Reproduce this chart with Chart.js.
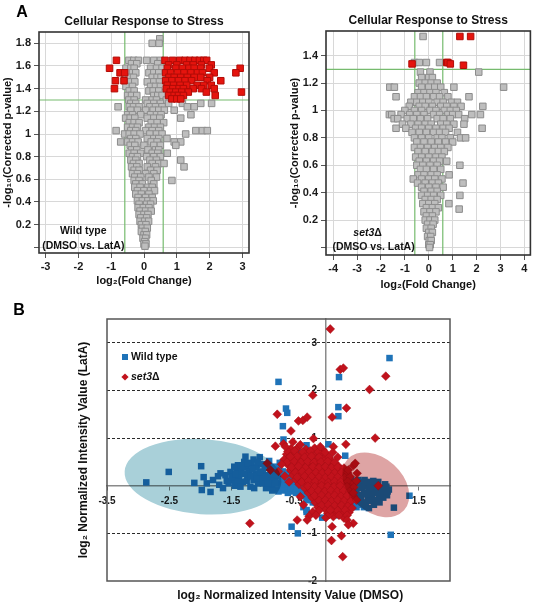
<!DOCTYPE html>
<html>
<head>
<meta charset="utf-8">
<script src="https://cdn.jsdelivr.net/npm/chart.js@4.4.1/dist/chart.umd.min.js"></script>
<style>
  html, body { margin: 0; padding: 0; background: #fff; }
  #wrap { position: relative; width: 536px; height: 607px; overflow: hidden; }
  canvas { position: absolute; }
  #cA1 { left: 0; top: 0; }
  #cA2 { left: 268px; top: 0; }
  #cB { left: 0; top: 290px; }
</style>
</head>
<body>
<div id="wrap">
  <canvas id="cB" width="536" height="317"></canvas>
  <canvas id="cA1" width="268" height="295"></canvas>
  <canvas id="cA2" width="268" height="295"></canvas>
</div>
<script>
// ---- Panel A, wild type: rows of [-log10 p, [log2 fold change, ...]]
const wtGrayRows = [
  [1.84, [0.48]],
  [1.80, [0.25, 0.46]],
  [1.65, [-0.46, -0.31, -0.17, 0.08, 0.3, 0.5]],
  [1.62, [-0.38, -0.22, 0.42]],
  [1.58, [-0.55, -0.4, -0.3, 0.2, 0.38, 0.55]],
  [1.54, [-0.5, -0.35, -0.25, 0.15, 0.3, 0.45]],
  [1.50, [-0.58, -0.45, -0.32, 0.25, 0.4, 0.52]],
  [1.46, [-0.52, -0.4, -0.28, 0.1, 0.3, 0.47]],
  [1.42, [-0.55, -0.35, 0.2, 0.35, 0.5]],
  [1.38, [-0.45, -0.3, 0.15, 0.28, 0.45]],
  [1.34, [-0.5, -0.38, -0.22, 0.3, 0.42, 0.55]],
  [1.30, [-0.46, -0.3, 0.05, 0.25, 0.38, 0.68]],
  [1.27, [-0.4, -0.25, 0.1, 0.3, 0.5, 0.75, 1.17, 1.73, 2.06]],
  [1.24, [-0.79, -0.45, -0.32, -0.15, 0.18, 0.35, 0.55, 1.32, 1.53]],
  [1.21, [-0.4, -0.2, 0.05, 0.28, 0.45, 0.62, 0.92]],
  [1.17, [-0.5, -0.35, -0.1, 0.2, 0.38, 0.52, 1.43]],
  [1.14, [-0.56, -0.42, -0.28, 0.1, 0.3, 0.48, 1.12]],
  [1.10, [-0.45, -0.3, -0.15, 0.22, 0.4, 0.6]],
  [1.06, [-0.5, -0.35, -0.2, 0.15, 0.32, 0.5]],
  [1.03, [-0.85, -0.4, -0.25, 0.05, 0.25, 0.45, 1.58, 1.78, 1.93]],
  [1.00, [-0.59, -0.45, -0.3, -0.12, 0.18, 0.38, 0.55, 1.27]],
  [0.96, [-0.4, -0.25, 0.1, 0.3, 0.45, 0.7]],
  [0.93, [-0.71, -0.5, -0.35, -0.18, 0.22, 0.4, 0.92, 1.12]],
  [0.90, [-0.42, -0.28, 0.0, 0.3, 0.5, 0.97]],
  [0.86, [-0.38, -0.22, 0.12, 0.35, 0.45]],
  [0.83, [-0.45, -0.3, -0.1, 0.25, 0.42, 0.71]],
  [0.80, [-0.35, -0.2, 0.08, 0.3, 0.5]],
  [0.77, [-0.4, -0.25, 0.18, 0.38, 1.12]],
  [0.74, [-0.32, -0.15, 0.25, 0.45, 0.61]],
  [0.71, [-0.38, -0.22, 0.1, 0.35, 1.22]],
  [0.68, [-0.3, -0.15, 0.2, 0.4]],
  [0.65, [-0.35, -0.2, 0.05, 0.3]],
  [0.62, [-0.28, -0.1, 0.15, 0.38]],
  [0.59, [-0.3, -0.15, 0.22, 0.85]],
  [0.56, [-0.25, -0.05, 0.3]],
  [0.53, [-0.28, -0.12, 0.12, 0.25]],
  [0.50, [-0.2, 0.0, 0.2, 0.32]],
  [0.47, [-0.25, -0.08, 0.15]],
  [0.44, [-0.18, 0.05, 0.25]],
  [0.41, [-0.2, -0.05, 0.12, 0.28]],
  [0.38, [-0.15, 0.08, 0.2]],
  [0.35, [-0.18, -0.02, 0.15]],
  [0.32, [-0.12, 0.05, 0.22]],
  [0.29, [-0.15, 0.0, 0.12]],
  [0.26, [-0.1, 0.08]],
  [0.23, [-0.12, 0.02, 0.14]],
  [0.20, [-0.08, 0.06]],
  [0.17, [-0.05, 0.1]],
  [0.14, [-0.08, 0.04]],
  [0.11, [0.0, 0.08]],
  [0.08, [-0.03, 0.05]],
  [0.05, [0.02]],
  [0.03, [0.0, 0.06]],
  [0.01, [0.03]]
];
const wtRedRows = [
  [1.65, [-0.84, 0.64, 0.87, 1.09, 1.25, 1.4, 1.55, 1.69, 1.82, 1.91]],
  [1.61, [0.75, 1.0, 1.3, 1.5, 1.75, 2.05]],
  [1.58, [-1.05, 0.71, 0.97, 1.17, 1.37, 1.53, 1.73, 1.99, 2.93]],
  [1.54, [-0.73, -0.59, 0.66, 0.81, 1.02, 1.22, 1.43, 1.63, 1.78, 2.14, 2.8]],
  [1.50, [0.76, 0.92, 1.12, 1.32, 1.53, 1.73, 2.0]],
  [1.47, [-0.87, -0.61, 0.66, 0.85, 1.05, 1.25, 1.45, 1.93, 2.34]],
  [1.43, [0.71, 0.9, 1.1, 1.3, 1.62, 1.82, 2.05]],
  [1.40, [-0.9, 0.68, 0.88, 1.07, 1.2, 1.5, 1.75, 2.14]],
  [1.37, [0.8, 0.97, 1.15, 1.35, 1.9, 2.97]],
  [1.34, [0.75, 0.92, 1.05, 1.2, 2.17]],
  [1.31, [0.85, 1.0, 1.12]]
];

// ---- Panel A, set3 deletion
const setGrayRows = [
  [1.54, [-0.24]],
  [1.35, [-0.6, -0.4, -0.1, 0.45]],
  [1.28, [-0.35, 0.05, 2.09]],
  [1.24, [-0.3, 0.0, 0.15]],
  [1.20, [-0.4, -0.15, 0.1, 0.35]],
  [1.17, [-1.63, -1.44, -0.3, 0.0, 0.25, 0.5, 1.05, 3.13]],
  [1.13, [-0.45, -0.2, 0.05, 0.3, 0.65]],
  [1.10, [-1.37, -0.6, -0.35, -0.1, 0.2, 0.45, 0.8, 1.68]],
  [1.06, [-0.75, -0.5, -0.25, 0.0, 0.35, 0.6, 0.95, 1.2]],
  [1.03, [-0.82, -0.4, -0.15, 0.15, 0.5, 0.75, 1.05, 1.35, 2.26]],
  [1.00, [-1.0, -0.6, -0.3, 0.05, 0.3, 0.65, 0.9, 1.15]],
  [0.97, [-1.65, -1.55, -1.16, -0.8, -0.5, -0.2, 0.2, 0.45, 0.8, 1.0, 1.25, 1.8, 2.16]],
  [0.94, [-1.45, -1.3, -0.9, -0.65, -0.35, -0.05, 0.35, 0.6, 0.9, 1.5]],
  [0.90, [-1.1, -0.75, -0.45, -0.15, 0.1, 0.5, 0.75, 1.05, 1.47]],
  [0.87, [-1.37, -0.96, -0.55, -0.3, 0.0, 0.3, 0.6, 0.85, 2.23]],
  [0.84, [-0.7, -0.4, -0.1, 0.2, 0.45, 0.7, 1.2]],
  [0.80, [-0.6, -0.3, 0.0, 0.35, 0.55, 0.9, 1.33, 1.54]],
  [0.77, [-0.5, -0.2, 0.1, 0.4, 0.7, 1.0]],
  [0.73, [-0.6, -0.35, -0.05, 0.25, 0.5, 0.8]],
  [0.70, [-0.45, -0.15, 0.15, 0.4, 0.65]],
  [0.66, [-0.55, -0.3, 0.0, 0.3, 0.55]],
  [0.63, [-0.4, -0.1, 0.2, 0.45, 0.75]],
  [0.60, [-0.5, -0.25, 0.05, 0.35, 1.3]],
  [0.57, [-0.35, -0.1, 0.2, 0.5]],
  [0.53, [-0.45, -0.2, 0.1, 0.35, 0.85]],
  [0.50, [-0.65, -0.3, 0.0, 0.25, 0.55]],
  [0.47, [-0.47, -0.15, 0.15, 0.4, 1.43]],
  [0.44, [-0.3, 0.0, 0.3, 0.6]],
  [0.41, [-0.2, 0.1, 0.35]],
  [0.38, [-0.3, -0.05, 0.2, 0.5, 1.3]],
  [0.35, [-0.15, 0.1, 0.35]],
  [0.32, [-0.25, 0.0, 0.25, 0.84]],
  [0.29, [-0.1, 0.15, 0.4]],
  [0.28, [1.27]],
  [0.26, [-0.2, 0.05, 0.3]],
  [0.23, [-0.1, 0.15]],
  [0.20, [-0.15, 0.05, 0.25]],
  [0.17, [-0.05, 0.18]],
  [0.14, [-0.1, 0.1]],
  [0.11, [0.0, 0.15]],
  [0.08, [-0.05, 0.08]],
  [0.05, [0.02, 0.1]],
  [0.02, [0.0, 0.06]],
  [0.00, [0.03]]
];
const setRedRows = [
  [1.54, [1.3, 1.75]],
  [1.35, [0.75, 0.8]],
  [1.34, [-0.7, 0.9]],
  [1.33, [1.45]]
];

const foldCut = 0.585;   // log2(1.5)
const pCut = 1.3;        // -log10(0.05)
const xTicksA1 = [-3, -2, -1, 0, 1, 2, 3];
const yTicksA1 = [0, 0.2, 0.4, 0.6, 0.8, 1, 1.2, 1.4, 1.6, 1.8];
const xTicksA2 = [-4, -3, -2, -1, 0, 1, 2, 3, 4];
const yTicksA2 = [0, 0.2, 0.4, 0.6, 0.8, 1, 1.2, 1.4];

// ---- Panel B: [DMSO, LatA] log2 normalized intensity
const wtPointsB = [
  [-2.87, 0.07], [-2.51, 0.29], [-2.1, 0.06], [-1.99, 0.41], [-1.98, -0.09], [-1.95, 0.18],
  [-1.9, 0.05], [-1.84, -0.13], [-1.8, 0.12], [-1.72, 0.2], [-1.68, 0.26], [-1.7, 0.02],
  [-1.64, -0.05], [-1.58, 0.1], [-1.52, 0.29], [-1.48, 0.12], [-1.45, 0.0], [-1.42, 0.35],
  [-1.4, 0.43], [-1.38, 0.2], [-1.35, 0.3], [-1.32, 0.08], [-1.3, 0.5], [-1.28, 0.61],
  [-1.27, 0.38], [-1.25, 0.18], [-1.22, 0.3], [-1.2, -0.02], [-1.18, 0.45], [-1.15, 0.55],
  [-1.15, 0.12], [-1.12, 0.25], [-1.1, 0.38], [-1.08, 0.05], [-1.05, 0.6], [-1.05, 0.18],
  [-1.02, 0.45], [-1.0, 0.3], [-0.98, 0.1], [-0.95, -0.05], [-0.93, 0.22], [-0.9, 0.38],
  [-0.88, 0.12], [-0.85, 0.0], [-0.83, 0.28], [-0.8, 0.15], [-0.78, -0.08], [-0.76, 0.05],
  [-0.74, 0.35], [-0.72, 0.2], [-0.7, 0.0], [-0.68, 0.1], [-0.65, -0.05], [-0.62, 0.25],
  [-0.6, 0.05], [-0.58, -0.1], [-0.55, 0.15], [-0.52, 0.0], [-0.5, -0.12], [-0.48, 0.3],
  [-1.6, 0.22], [-1.55, 0.05], [-1.5, 0.18], [-1.46, 0.4], [-1.44, 0.25], [-1.4, 0.08],
  [-1.36, -0.02], [-1.33, 0.42], [-1.3, 0.25], [-1.26, 0.1], [-1.24, 0.48], [-1.2, 0.2],
  [-1.17, 0.35], [-1.14, -0.05], [-1.1, 0.15], [-1.08, 0.5], [-1.04, 0.28], [-1.0, 0.05],
  [-0.97, 0.4], [-0.95, 0.18], [-0.92, 0.05], [-0.9, 0.52], [-0.87, 0.25], [-0.85, -0.1],
  [-0.82, 0.4], [-0.8, 0.05], [-0.77, 0.22], [-0.75, -0.12], [-0.73, 0.48], [-0.7, 0.15],
  [-0.68, 0.3], [-0.66, -0.1], [-0.63, 0.08], [-0.6, -0.15], [-0.57, 0.2], [-0.55, -0.05],
  [-0.52, 0.1], [-0.5, 0.25], [-0.47, -0.15], [-0.45, 0.12], [-0.42, -0.08], [-0.38, -0.15],
  [-0.33, -0.22], [-0.28, -0.12], [-0.25, -0.3], [-0.2, -0.2], [-0.15, -0.35], [-0.1, -0.28],
  [-0.05, -0.45], [0.02, -0.38], [0.08, -0.55], [0.12, -0.45], [0.18, -0.62], [0.22, -0.5],
  [-0.45, -0.05], [-0.4, -0.2], [-0.35, -0.1], [-0.3, -0.3], [-0.25, -0.15], [-0.2, -0.35],
  [-0.15, -0.25], [-0.1, -0.4], [-0.05, -0.3], [0.0, -0.45], [0.05, -0.35], [0.1, -0.5],
  [0.15, -0.4], [0.2, -0.55], [0.25, -0.45], [0.3, -0.35], [-0.45, 0.3], [-0.5, 0.45],
  [-0.55, 0.6], [-0.4, 0.7], [-0.3, 0.85], [-0.2, 0.55], [-0.1, 0.2], [0.0, 0.0],
  [0.1, 0.1], [0.2, -0.1], [0.35, -0.2], [0.4, -0.3], [-0.35, -0.45], [-0.3, -0.55],
  [0.32, -0.62], [0.38, -0.5], [0.45, -0.4],
  [0.4, -0.05], [0.45, 0.0], [0.5, -0.1], [0.52, 0.05], [0.55, -0.2], [0.58, -0.05],
  [0.6, 0.08], [0.62, -0.15], [0.65, 0.0], [0.68, -0.25], [0.7, -0.1], [0.72, 0.05],
  [0.75, -0.2], [0.78, -0.05], [0.8, -0.3], [0.82, 0.02], [0.85, -0.12], [0.88, -0.22],
  [0.9, -0.05], [0.92, -0.15], [0.95, -0.1], [0.98, -0.02], [0.7, -0.47], [0.6, -0.38],
  [0.5, -0.45], [0.42, -0.32], [0.55, -0.3], [0.65, -0.35], [0.86, -0.28], [1.0, -0.12],
  [0.35, 0.05], [0.42, 0.12], [0.48, -0.18], [0.53, 0.12], [0.57, -0.28], [0.6, -0.02],
  [0.63, 0.12], [0.66, -0.18], [0.69, 0.08], [0.73, -0.32], [0.74, -0.02], [0.77, 0.1],
  [0.8, -0.15], [0.83, -0.05], [0.85, 0.08], [0.87, -0.35], [0.9, -0.12], [0.93, -0.25],
  [0.96, 0.03], [0.99, -0.2], [1.02, -0.08], [0.62, -0.45], [0.78, -0.4], [0.55, -0.4],
  [1.03, 2.68], [-0.75, 2.18], [0.22, 2.28], [0.21, 1.65], [0.21, 1.46], [-0.63, 1.62],
  [-0.61, 1.53], [-0.68, 1.25], [-0.67, 0.97], [0.05, 0.87], [0.32, 0.63], [1.05, -1.03],
  [1.1, -0.46], [1.35, -0.21], [-0.54, -0.86], [-0.44, -1.0], [-0.05, -0.67], [-0.3, -0.51],
  [0.29, -0.54], [0.28, -0.58]
];
const setPointsB = [
  [-0.55, 0.78], [-0.44, 0.8], [-0.31, 0.76], [-0.17, 0.79], [-0.04, 0.75],
  [-0.62, 0.66], [-0.5, 0.69], [-0.39, 0.65], [-0.28, 0.68], [-0.19, 0.64], [-0.08, 0.67], [0.02, 0.63],
  [-0.66, 0.55], [-0.55, 0.58], [-0.44, 0.54], [-0.34, 0.57], [-0.23, 0.55], [-0.13, 0.53], [-0.02, 0.57], [0.09, 0.54],
  [-0.6, 0.44], [-0.49, 0.47], [-0.38, 0.43], [-0.29, 0.46], [-0.18, 0.44], [-0.07, 0.42], [0.03, 0.46], [0.13, 0.44], [0.21, 0.41],
  [-0.56, 0.33], [-0.46, 0.36], [-0.35, 0.32], [-0.25, 0.35], [-0.15, 0.33], [-0.05, 0.31], [0.05, 0.35], [0.15, 0.32], [0.26, 0.34],
  [-0.52, 0.22], [-0.41, 0.25], [-0.31, 0.23], [-0.2, 0.26], [-0.1, 0.22], [0.0, 0.24], [0.1, 0.21], [0.2, 0.25], [0.31, 0.23],
  [-0.47, 0.13], [-0.36, 0.15], [-0.26, 0.12], [-0.15, 0.16], [-0.05, 0.13], [0.05, 0.11], [0.15, 0.15], [0.25, 0.12], [0.36, 0.14],
  [-0.42, 0.03], [-0.31, 0.06], [-0.21, 0.02], [-0.1, 0.05], [0.0, 0.03], [0.1, 0.01], [0.2, 0.05], [0.3, 0.02], [0.41, 0.04],
  [-0.33, -0.05], [-0.22, -0.08], [-0.12, -0.04], [-0.01, -0.07], [0.09, -0.05], [0.19, -0.09], [0.29, -0.06], [0.41, -0.08],
  [-0.27, -0.15], [-0.16, -0.18], [-0.06, -0.14], [0.04, -0.17], [0.14, -0.15], [0.24, -0.19], [0.34, -0.16],
  [-0.21, -0.25], [-0.11, -0.28], [0.0, -0.24], [0.1, -0.27], [0.2, -0.25], [0.3, -0.29], [0.4, -0.26],
  [-0.16, -0.35], [-0.05, -0.38], [0.05, -0.34], [0.15, -0.37], [0.25, -0.35], [0.35, -0.39],
  [-0.12, -0.45], [-0.01, -0.48], [0.1, -0.44], [0.2, -0.47], [0.31, -0.46],
  [-0.2, -0.55], [0.04, -0.58], [0.15, -0.54], [0.26, -0.57], [0.38, -0.56],
  [-0.26, -0.64], [0.01, -0.67], [0.13, -0.65], [0.3, -0.68],
  [-0.6, 0.72], [-0.49, 0.73], [-0.36, 0.71], [-0.24, 0.73], [-0.11, 0.71], [0.0, 0.7],
  [-0.57, 0.61], [-0.45, 0.62], [-0.33, 0.6], [-0.22, 0.62], [-0.1, 0.6], [0.06, 0.6],
  [-0.61, 0.5], [-0.5, 0.51], [-0.39, 0.49], [-0.28, 0.51], [-0.18, 0.49], [-0.07, 0.5], [0.04, 0.51], [0.15, 0.49],
  [-0.54, 0.39], [-0.43, 0.41], [-0.32, 0.38], [-0.2, 0.4], [-0.1, 0.38], [0.0, 0.4], [0.1, 0.38], [0.2, 0.39], [0.3, 0.37],
  [-0.48, 0.28], [-0.37, 0.3], [-0.26, 0.29], [-0.15, 0.28], [-0.05, 0.27], [0.05, 0.29], [0.15, 0.27], [0.26, 0.28], [0.36, 0.27],
  [-0.45, 0.18], [-0.33, 0.2], [-0.22, 0.19], [-0.1, 0.18], [0.0, 0.17], [0.1, 0.19], [0.2, 0.18], [0.31, 0.17], [0.4, 0.19],
  [-0.38, 0.08], [-0.27, 0.1], [-0.16, 0.09], [-0.05, 0.08], [0.05, 0.07], [0.15, 0.09], [0.25, 0.08], [0.36, 0.09], [0.46, 0.06],
  [-0.28, -0.01], [-0.17, -0.02], [-0.06, 0.0], [0.04, -0.01], [0.14, -0.02], [0.24, 0.0], [0.35, -0.02], [0.46, -0.03],
  [-0.22, -0.11], [-0.11, -0.1], [-0.01, -0.12], [0.09, -0.1], [0.19, -0.12], [0.29, -0.11], [0.39, -0.12],
  [-0.17, -0.21], [-0.06, -0.2], [0.05, -0.22], [0.15, -0.2], [0.25, -0.22], [0.35, -0.21], [0.45, -0.22],
  [-0.1, -0.31], [0.0, -0.3], [0.1, -0.32], [0.2, -0.3], [0.3, -0.32], [0.41, -0.33],
  [-0.06, -0.41], [0.05, -0.4], [0.15, -0.42], [0.26, -0.41], [0.36, -0.43],
  [-0.1, -0.52], [0.09, -0.5], [0.2, -0.52], [0.32, -0.51],
  [-0.15, -0.62], [0.07, -0.6], [0.22, -0.62], [0.35, -0.62],
  [-0.67, 0.88], [-0.52, 0.92], [-0.4, 0.86], [-0.19, 0.99], [-0.08, 0.82], [0.13, 0.82],
  [-0.56, 0.61], [0.12, 0.7], [0.2, 0.6], [-0.7, 0.45], [-0.75, 0.3], [-0.65, 0.2],
  [-0.58, 0.08], [0.5, 0.1], [0.45, -0.15], [0.5, -0.3], [-0.4, -0.23], [-0.35, -0.4],
  [-0.45, -0.72], [0.35, -0.72], [0.43, -0.47], [0.08, -0.51],
  [0.08, 3.29], [0.24, 2.44], [0.29, 2.47], [0.97, 2.3], [0.71, 2.02], [-0.2, 1.9],
  [0.34, 1.63], [0.11, 1.44], [-0.77, 1.5], [-0.43, 1.36], [-0.36, 1.37], [-0.29, 1.44],
  [-0.55, 1.15], [0.8, 1.0], [0.33, 0.87], [-1.21, -0.79], [0.1, -1.15], [0.26, -1.05],
  [0.28, -1.49], [0.45, -0.79], [0.37, -0.82], [0.11, -0.86], [-0.29, -0.72], [0.85, 0.0],
  [0.45, 0.42], [0.48, 0.47], [0.37, 0.33], [0.51, 0.26], [-0.8, 0.83], [-0.64, 0.82],
  [-0.93, 0.47], [-0.88, 0.33]
];
const xTicksB = [-3.5, -2.5, -1.5, -0.5, 0.5, 1.5];
const yTicksB = [-2, -1, 0, 1, 2, 3];
const dashLevelsB = [-1, 1, 2, 3];

const rowsToPoints = rows => rows.flatMap(([y, xs]) => xs.map(x => ({ x, y })));
const pairsToPoints = list => list.map(([x, y]) => ({ x, y }));

const FONT = 'Arial, "Liberation Sans", Helvetica, sans-serif';
Chart.defaults.font.family = FONT;
Chart.defaults.font.weight = 'bold';
Chart.defaults.font.size = 11;
Chart.defaults.color = '#1a1a1a';
Chart.defaults.animation = false;
Chart.defaults.plugins.legend.display = false;
Chart.defaults.plugins.tooltip.enabled = false;

// frame, notes, panel letter, highlight ellipses, legend
function extras(cfg) {
  return {
    id: 'extras',
    afterDatasetsDraw(chart) {
      const { ctx, chartArea: a, scales: { x, y } } = chart;
      ctx.save();
      (cfg.ellipses || []).forEach(e => {
        const cx = x.getPixelForValue(e.cx), cy = y.getPixelForValue(e.cy);
        const rx = Math.abs(x.getPixelForValue(e.cx + e.rx) - cx);
        const ry = Math.abs(y.getPixelForValue(e.cy + e.ry) - cy);
        ctx.globalCompositeOperation = 'multiply';
        ctx.fillStyle = e.color;
        ctx.beginPath();
        ctx.ellipse(cx, cy, rx, ry, e.rot * Math.PI / 180, 0, Math.PI * 2);
        ctx.fill();
      });
      ctx.globalCompositeOperation = 'source-over';
      ctx.strokeStyle = cfg.frameColor;
      ctx.lineWidth = cfg.frameWidth;
      ctx.strokeRect(a.left, a.top, a.width, a.height);

      ctx.fillStyle = '#111';
      ctx.textBaseline = 'middle';
      (cfg.notes || []).forEach(n => {
        const px = x.getPixelForValue(n.x), py = y.getPixelForValue(n.y);
        const widths = n.parts.map(p => { ctx.font = p.font; return ctx.measureText(p.t).width; });
        let cur = px - widths.reduce((s, w) => s + w, 0) / 2;
        ctx.textAlign = 'left';
        n.parts.forEach((p, i) => { ctx.font = p.font; ctx.fillText(p.t, cur, py); cur += widths[i]; });
      });

      if (cfg.legend) {
        cfg.legend.forEach(l => {
          ctx.fillStyle = l.color;
          if (l.shape === 'rect') {
            ctx.fillRect(l.px - 3, l.py - 3, 6, 6);
          } else {
            ctx.beginPath();
            ctx.moveTo(l.px, l.py - 3.6); ctx.lineTo(l.px + 3.6, l.py);
            ctx.lineTo(l.px, l.py + 3.6); ctx.lineTo(l.px - 3.6, l.py);
            ctx.closePath(); ctx.fill();
          }
          ctx.fillStyle = '#111';
          let cur = l.px + 6;
          l.parts.forEach(p => { ctx.font = p.font; ctx.fillText(p.t, cur, l.py); cur += ctx.measureText(p.t).width; });
        });
      }

      if (cfg.letter) {
        ctx.font = 'bold 16px ' + FONT;
        ctx.fillStyle = '#000';
        ctx.textAlign = 'center';
        ctx.fillText(cfg.letter.t, cfg.letter.px, cfg.letter.py);
      }
      ctx.restore();
    }
  };
}

function volcano(id, p) {
  const grid = { color: '#d8d8d8', lineWidth: 1, tickLength: 5, tickColor: '#555' };
  const cutLines = [
    [{ x: -foldCut, y: p.yMin }, { x: -foldCut, y: p.yMax }],
    [{ x: foldCut, y: p.yMin }, { x: foldCut, y: p.yMax }],
    [{ x: p.xMin, y: pCut }, { x: p.xMax, y: pCut }]
  ];
  return new Chart(document.getElementById(id), {
    type: 'scatter',
    data: {
      datasets: [
        { data: p.red, pointStyle: 'rect', pointRadius: 4.6, backgroundColor: '#e5140e', borderColor: '#b10c07', borderWidth: 1, order: 1 },
        { data: p.gray, pointStyle: 'rect', pointRadius: 4.6, backgroundColor: '#bebebe', borderColor: '#8c8c8c', borderWidth: 1, order: 2 },
        ...cutLines.map(c => ({ data: c, showLine: true, pointRadius: 0, borderColor: '#76bb6e', borderWidth: 1.2, order: 10 }))
      ]
    },
    options: {
      responsive: false,
      layout: { padding: p.pad },
      plugins: {
        title: { display: true, text: 'Cellular Response to Stress', fullSize: false, color: '#111',
                 font: { size: 12 }, padding: { top: p.titleTop, bottom: 3 } }
      },
      scales: {
        x: {
          type: 'linear', min: p.xMin, max: p.xMax, grid, border: { display: false },
          afterBuildTicks: s => { s.ticks = p.xTicks.map(v => ({ value: v })); },
          afterFit: s => { s.height = p.xH; },
          ticks: { padding: 2, callback: v => String(v) },
          title: { display: true, text: 'log₂(Fold Change)', color: '#111', padding: { top: 0, bottom: p.xTitlePad } }
        },
        y: {
          type: 'linear', min: p.yMin, max: p.yMax, grid, border: { display: false },
          afterBuildTicks: s => { s.ticks = p.yTicks.map(v => ({ value: v })); },
          afterFit: s => { s.width = p.yW; },
          ticks: { padding: 3, callback: v => (v === 0 ? '' : String(Math.round(v * 10) / 10)) },
          title: { display: true, text: '-log₁₀(Corrected p-value)', color: '#111', padding: { top: p.yTitlePad, bottom: 0 } }
        }
      }
    },
    plugins: [extras({ frameColor: '#333', frameWidth: 1.6, notes: p.notes, letter: p.letter })]
  });
}

const noteFont = 'bold 10.5px ' + FONT;
volcano('cA1', {
  red: rowsToPoints(wtRedRows), gray: rowsToPoints(wtGrayRows),
  xMin: -3.2, xMax: 3.2, yMin: -0.05, yMax: 1.9,
  xTicks: xTicksA1, yTicks: yTicksA1,
  pad: { left: 0, right: 19, top: 0, bottom: 0 }, titleTop: 14.6,
  xH: 42, yW: 39, xTitlePad: 7.4, yTitlePad: 1,
  notes: [
    { x: -1.85, y: 0.143, parts: [{ t: 'Wild type', font: noteFont }] },
    { x: -1.85, y: 0.011, parts: [{ t: '(DMSO vs. LatA)', font: noteFont }] }
  ],
  letter: { t: 'A', px: 22, py: 13 }
});
volcano('cA2', {
  red: rowsToPoints(setRedRows), gray: rowsToPoints(setGrayRows),
  xMin: -4.3, xMax: 4.25, yMin: -0.055, yMax: 1.58,
  xTicks: xTicksA2, yTicks: yTicksA2,
  pad: { left: 19, right: 4, top: 0, bottom: 0 }, titleTop: 13.6,
  xH: 40, yW: 39, xTitlePad: 3.4, yTitlePad: 1.4,
  notes: [
    { x: -2.56, y: 0.106, parts: [{ t: 'set3', font: 'italic ' + noteFont }, { t: 'Δ', font: noteFont }] },
    { x: -2.31, y: 0.003, parts: [{ t: '(DMSO vs. LatA)', font: noteFont }] }
  ]
});

const nb = '\u00a0';
new Chart(document.getElementById('cB'), {
  type: 'scatter',
  data: {
    datasets: [
      { label: 'set3Δ', data: pairsToPoints(setPointsB), xAxisID: 'x', yAxisID: 'y', pointStyle: 'rectRot', pointRadius: 4.4,
        backgroundColor: '#c1121c', borderColor: '#a50e16', borderWidth: 0.5, order: 1 },
      { label: 'Wild type', data: pairsToPoints(wtPointsB), xAxisID: 'x', yAxisID: 'y', pointStyle: 'rect', pointRadius: 4.6,
        backgroundColor: '#1f73b8', borderWidth: 0, order: 2 }
    ]
  },
  options: {
    responsive: false,
    layout: { padding: { left: 75, right: 86, top: 29, bottom: 0 } },
    scales: {
      x: {
        type: 'linear', min: -3.5, max: 2, grid: { display: false }, border: { display: false },
        ticks: { display: false }, afterFit: s => { s.height = 26; },
        title: { display: true, text: nb.repeat(7) + 'log₂ Normalized Intensity Value (DMSO)', color: '#111',
                 font: { size: 12 }, padding: { top: 0, bottom: 3.8 } }
      },
      y: {
        type: 'linear', min: -2, max: 3.5,
        grid: { color: '#2a2a2a', lineWidth: 1, drawTicks: false, borderDash: [3, 2] },
        border: { display: false, dash: [3, 2] },
        ticks: { display: false },
        afterBuildTicks: s => { s.ticks = dashLevelsB.map(v => ({ value: v })); },
        afterFit: s => { s.width = 32; },
        title: { display: true, text: 'log₂ Normalized Intensity Value (LatA)', color: '#111',
                 font: { size: 12 }, padding: { top: 1, bottom: 0 } }
      },
      xc: {
        axis: 'x', type: 'linear', position: { y: 0 }, min: -3.5, max: 2,
        afterBuildTicks: s => { s.ticks = xTicksB.map(v => ({ value: v })); },
        grid: { drawOnChartArea: false, tickLength: 4, color: '#777' },
        border: { color: '#8a8a8a', width: 1.5 },
        ticks: { font: { size: 10 }, padding: 6, callback: v => String(v) }
      },
      yc: {
        axis: 'y', type: 'linear', position: { x: 0 }, min: -2, max: 3.5, z: 1,
        afterBuildTicks: s => { s.ticks = yTicksB.map(v => ({ value: v })); },
        grid: { drawOnChartArea: false, drawTicks: false },
        border: { color: '#8a8a8a', width: 1.5 },
        ticks: { font: { size: 10 }, padding: 6, callback: v => String(v) + nb + nb + nb }
      }
    }
  },
  plugins: [extras({
    frameColor: '#555', frameWidth: 1.5,
    ellipses: [
      { cx: -1.96, cy: 0.19, rx: 1.26, ry: 0.79, rot: 4, color: '#a9d0d9' },
      { cx: 0.81, cy: 0.02, rx: 0.61, ry: 0.565, rot: 42, color: '#dea4a4' }
    ],
    legend: [
      { shape: 'rect', color: '#1f73b8', px: 125, py: 67, parts: [{ t: 'Wild type', font: 'bold 10.5px ' + FONT }] },
      { shape: 'diamond', color: '#c1121c', px: 125, py: 87, parts: [{ t: 'set3', font: 'italic bold 10.5px ' + FONT }, { t: 'Δ', font: 'bold 10.5px ' + FONT }] }
    ],
    letter: { t: 'B', px: 19, py: 21 }
  })]
});
</script>
</body>
</html>
